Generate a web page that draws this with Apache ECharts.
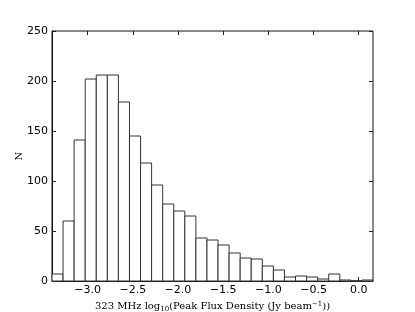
<!DOCTYPE html>
<html><head><meta charset="utf-8">
<script src="https://cdn.jsdelivr.net/npm/echarts@6/dist/echarts.min.js"></script>
<style>html,body{margin:0;padding:0;background:#fff}#c{width:415px;height:312px}</style>
</head><body><div id="c"></div>
<script>
// Histogram bins
const binMin = -3.394;
const binMax = 0.158;
const counts = [7, 60, 141, 202, 206, 206, 179, 145, 118, 96, 77, 70, 65, 43, 41, 36, 28, 23, 22, 15, 11, 4, 5, 4, 2, 7, 1, 0, 1];
const xTicks = [-3.0, -2.5, -2.0, -1.5, -1.0, -0.5, 0.0];
const yTicks = [0, 50, 100, 150, 200, 250];

const binWidth = (binMax - binMin) / counts.length;
const histData = counts.map((c, i) => [binMin + i * binWidth, binMin + (i + 1) * binWidth, c]);

const fmtMinus = v => (v < 0 ? '\u2212' : '') + Math.abs(v).toFixed(1);

const chart = echarts.init(document.getElementById('c'), null, {renderer: 'canvas'});
const tickStyle = {show: true, inside: true, length: 4, lineStyle: {color: '#222', width: 1}};
chart.setOption({
  animation: false,
  grid: {left: 52, right: 42, top: 31, bottom: 31, show: true, borderColor: '#111', borderWidth: 1, backgroundColor: 'transparent', containLabel: false, outerBoundsMode: 'none'},
  xAxis: [{
    type: 'value', min: binMin, max: binMax, position: 'bottom',
    axisLine: {show: true, onZero: false, lineStyle: {color: '#111', width: 1}},
    axisTick: Object.assign({}, tickStyle, {customValues: xTicks}),
    axisLabel: {customValues: xTicks, formatter: fmtMinus, color: '#000', fontFamily: 'DejaVu Sans', fontSize: 11, margin: 4},
    splitLine: {show: false},
    name: '323 MHz log{sub|10}(Peak Flux Density (Jy beam{sup|\u22121}))',
    nameLocation: 'middle', nameGap: 19,
    nameTextStyle: {color: '#000', fontFamily: 'DejaVu Serif', fontSize: 10,
      rich: {
        sub: {fontFamily: 'DejaVu Serif', fontSize: 7, color: '#000', padding: [5, 0, 0, 0]},
        sup: {fontFamily: 'DejaVu Serif', fontSize: 7, color: '#000', padding: [0, 0, 5, 0]}
      }}
  }, {
    type: 'value', min: binMin, max: binMax, position: 'top',
    axisLine: {show: false, onZero: false},
    axisTick: Object.assign({}, tickStyle, {customValues: xTicks}),
    axisLabel: {show: false, customValues: xTicks},
    splitLine: {show: false}
  }],
  yAxis: [{
    type: 'value', min: yTicks[0], max: yTicks[yTicks.length - 1], interval: 50, position: 'left',
    axisLine: {show: true, onZero: false, lineStyle: {color: '#111', width: 1}},
    axisTick: tickStyle,
    axisLabel: {color: '#000', fontFamily: 'DejaVu Sans', fontSize: 11, margin: 4},
    splitLine: {show: false},
    name: 'N', nameLocation: 'middle', nameGap: 28, nameRotate: 90, nameMoveOverlap: false,
    nameTextStyle: {color: '#000', fontFamily: 'DejaVu Serif', fontSize: 10}
  }, {
    type: 'value', min: yTicks[0], max: yTicks[yTicks.length - 1], interval: 50, position: 'right',
    axisLine: {show: false, onZero: false},
    axisTick: tickStyle,
    axisLabel: {show: false},
    splitLine: {show: false}
  }],
  series: [{
    type: 'custom',
    xAxisIndex: 0, yAxisIndex: 0,
    data: histData,
    encode: {x: [0, 1], y: 2},
    renderItem: function (params, api) {
      const p0 = api.coord([api.value(0), api.value(2)]);
      const p1 = api.coord([api.value(1), 0]);
      return {
        type: 'rect',
        shape: {x: p0[0], y: p0[1], width: p1[0] - p0[0], height: p1[1] - p0[1]},
        style: {fill: '#fff', stroke: '#333', lineWidth: 1}
      };
    }
  }]
});
</script></body></html>
